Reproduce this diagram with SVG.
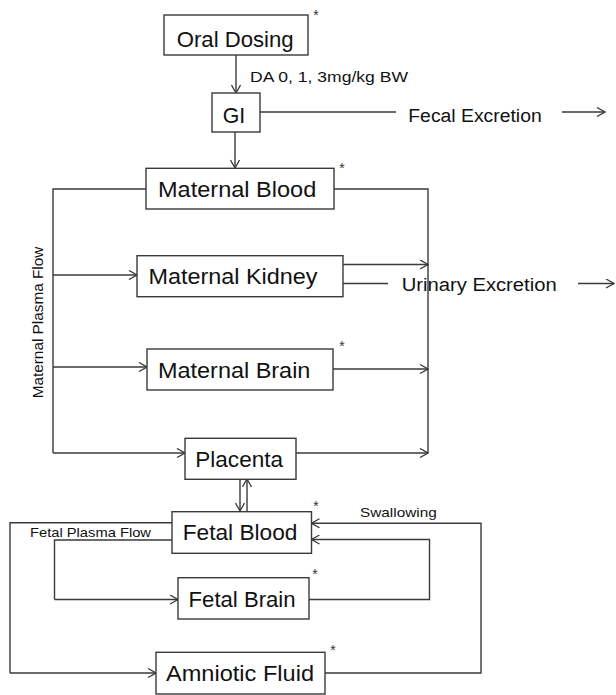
<svg xmlns="http://www.w3.org/2000/svg" width="616" height="695" viewBox="0 0 616 695">
<style>
.box{fill:#fff;stroke:#3a3a3a;stroke-width:1.4}
.ln{fill:none;stroke:#3a3a3a;stroke-width:1.4}
.arr{marker-end:url(#ah)}
.t{font-family:"Liberation Sans",Arial,sans-serif;fill:#111}
.big{font-size:22px}
.mid{font-size:18px}
.sm{font-size:14px}
.xs{font-size:13.5px}
.ast{font-family:"Liberation Sans",Arial,sans-serif;font-size:14px;fill:#333;text-anchor:middle}
</style>
<defs>
<marker id="ah" viewBox="0 0 10 10" refX="9.5" refY="5" markerWidth="10" markerHeight="10" markerUnits="userSpaceOnUse" orient="auto">
<path d="M1.5,0.5 L9.5,5 L1.5,9.5" fill="none" stroke="#3a3a3a" stroke-width="1.3"/>
</marker>
</defs>
<rect width="616" height="695" fill="#fff"/>
<g id="connectors">
<line class="ln arr" x1="236" y1="55" x2="236" y2="93"/>
<line class="ln" x1="260" y1="112" x2="396" y2="112"/>
<line class="ln arr" x1="562" y1="112" x2="605" y2="112"/>
<line class="ln arr" x1="235" y1="132" x2="235" y2="168"/>
<polyline class="ln" points="146,189 53,189 53,453"/>
<polyline class="ln" points="334,189 428,189 428,453"/>
<line class="ln arr" x1="53" y1="275" x2="137" y2="275"/>
<line class="ln arr" x1="343" y1="264.5" x2="428" y2="264.5"/>
<line class="ln" x1="343" y1="283.5" x2="388" y2="283.5"/>
<line class="ln arr" x1="578" y1="283.5" x2="614" y2="283.5"/>
<line class="ln arr" x1="53" y1="367" x2="147" y2="367"/>
<line class="ln arr" x1="333" y1="369" x2="428" y2="369"/>
<line class="ln arr" x1="53" y1="453" x2="185" y2="453"/>
<line class="ln arr" x1="296" y1="453" x2="428" y2="453"/>
<line class="ln arr" x1="240" y1="479" x2="240" y2="511"/>
<line class="ln arr" x1="247" y1="511" x2="247" y2="479"/>
<polyline class="ln" points="172,522.7 10,522.7 10,673"/>
<line class="ln arr" x1="10" y1="673" x2="156" y2="673"/>
<polyline class="ln" points="172,540 54.5,540 54.5,599.5"/>
<line class="ln arr" x1="54.5" y1="599.5" x2="178" y2="599.5"/>
<polyline class="ln arr" points="309,599.5 429.5,599.5 429.5,539.5 311.5,539.5"/>
<polyline class="ln arr" points="325,673 481,673 481,523.3 311.5,523.3"/>
</g>
<g id="oral-dosing">
<rect class="box" x="164" y="15" width="144" height="40"/>
<text class="t big" x="176.7" y="46.7" textLength="117" lengthAdjust="spacingAndGlyphs">Oral Dosing</text>
<text class="ast" x="316" y="20">*</text>
</g>
<text class="t sm" x="250" y="81.7" textLength="158" lengthAdjust="spacingAndGlyphs">DA 0, 1, 3mg/kg BW</text>
<g id="gi">
<rect class="box" x="212" y="93" width="48" height="39"/>
<text class="t big" x="222.7" y="123.3" textLength="22.5" lengthAdjust="spacingAndGlyphs">GI</text>
</g>
<text class="t mid" x="408.3" y="121.7" textLength="133.4" lengthAdjust="spacingAndGlyphs">Fecal Excretion</text>
<g id="maternal-blood">
<rect class="box" x="146" y="168.3" width="188" height="40.7"/>
<text class="t big" x="158" y="196.7" textLength="158.3" lengthAdjust="spacingAndGlyphs">Maternal Blood</text>
<text class="ast" x="342" y="173">*</text>
</g>
<g id="maternal-kidney">
<rect class="box" x="137" y="255.7" width="206" height="41"/>
<text class="t big" x="148.5" y="284" textLength="169" lengthAdjust="spacingAndGlyphs">Maternal Kidney</text>
</g>
<text class="t mid" x="401.7" y="290.5" textLength="155" lengthAdjust="spacingAndGlyphs">Urinary Excretion</text>
<g id="maternal-brain">
<rect class="box" x="147" y="349" width="186" height="41"/>
<text class="t big" x="158" y="378.3" textLength="152.4" lengthAdjust="spacingAndGlyphs">Maternal Brain</text>
<text class="ast" x="342" y="350.7">*</text>
</g>
<text class="t" style="font-size:15px" transform="translate(43.3,398.3) rotate(-90)" x="0" y="0" textLength="151.6" lengthAdjust="spacingAndGlyphs">Maternal Plasma Flow</text>
<g id="placenta">
<rect class="box" x="185" y="438.3" width="111" height="41"/>
<text class="t big" x="195.3" y="466.7" textLength="87.7" lengthAdjust="spacingAndGlyphs">Placenta</text>
</g>
<g id="fetal-blood">
<rect class="box" x="172" y="511.7" width="139.5" height="41.6"/>
<text class="t big" x="182.7" y="540" textLength="114.7" lengthAdjust="spacingAndGlyphs">Fetal Blood</text>
<text class="ast" x="316" y="511">*</text>
</g>
<text class="t xs" x="360" y="516.7" textLength="76.7" lengthAdjust="spacingAndGlyphs">Swallowing</text>
<text class="t xs" x="30" y="537.3" textLength="121" lengthAdjust="spacingAndGlyphs">Fetal Plasma Flow</text>
<g id="fetal-brain">
<rect class="box" x="178" y="577.7" width="131" height="41.3"/>
<text class="t big" x="188.6" y="606.7" textLength="107" lengthAdjust="spacingAndGlyphs">Fetal Brain</text>
<text class="ast" x="315" y="578.7">*</text>
</g>
<g id="amniotic-fluid">
<rect class="box" x="156" y="652.3" width="169" height="41.7"/>
<text class="t big" x="166" y="681" textLength="148" lengthAdjust="spacingAndGlyphs">Amniotic Fluid</text>
<text class="ast" x="333" y="655.3">*</text>
</g>
</svg>
